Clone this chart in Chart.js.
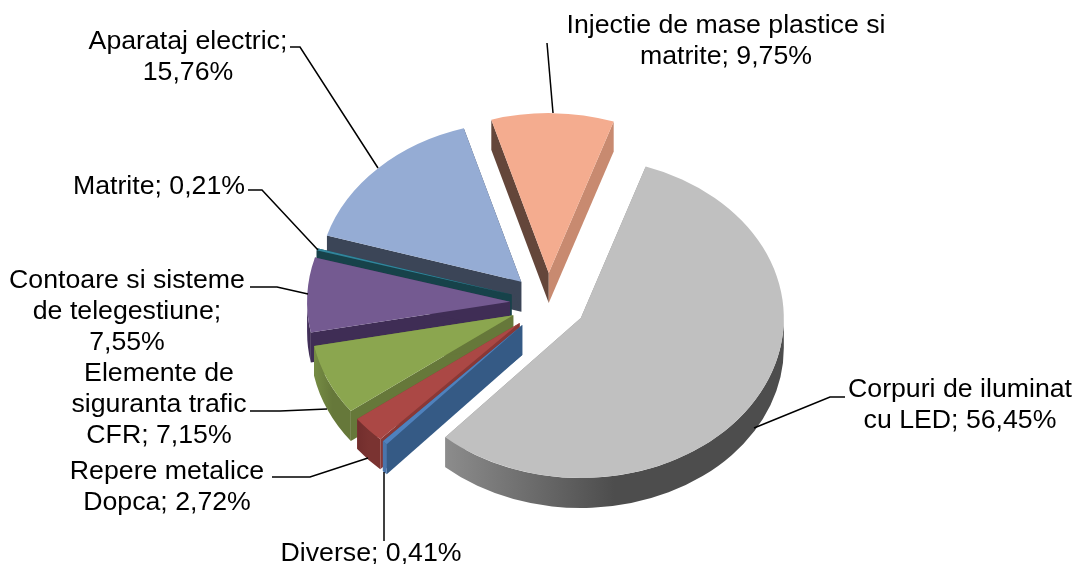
<!DOCTYPE html>
<html>
<head>
<meta charset="utf-8">
<script src="https://cdn.jsdelivr.net/npm/chart.js@4"></script>
<style>
    html, body { margin: 0; padding: 0; background: #fff; }
    canvas { display: block; }
</style>
</head>
<body>
<canvas id="chart1" width="1077" height="564"></canvas>
<script>
// data, clockwise from the big slice
const categories = ["Corpuri de iluminat cu LED", "Diverse", "Repere metalice Dopca",
    "Elemente de siguranta trafic CFR", "Contoare si sisteme de telegestiune",
    "Matrite", "Aparataj electric", "Injectie de mase plastice si matrite"];
const shares = [56.45, 0.41, 2.72, 7.15, 7.55, 0.21, 15.76, 9.75];

// label text, line by line
const labelLines = [
    ["Corpuri de iluminat", "cu LED; 56,45%"],
    ["Diverse; 0,41%"],
    ["Repere metalice", "Dopca; 2,72%"],
    ["Elemente de", "siguranta trafic", "CFR; 7,15%"],
    ["Contoare si sisteme", "de telegestiune;", "7,55%"],
    ["Matrite; 0,21%"],
    ["Aparataj electric;", "15,76%"],
    ["Injectie de mase plastice si", "matrite; 9,75%"]
];

// colours per slice
const topColors = ["#c0c0c0", "#4f81bd", "#ab4845", "#8ba64f", "#745a91", "#31859c", "#95acd4", "#f4ac8f"];
const startWallColors = ["#8c8c8c", "#355a85", "#8a3836", "#66783a", "#3f2d55", "#17424a", "#3b4557", "#64463a"];
const endWallColors = ["#8c8c8c", "#355a85", "#8a3836", "#66783a", "#3f2d55", "#17424a", "#3b4557", "#c88a70"];
const rimFromColors = ["#8c8c8c", "#4a75ab", "#722e2d", "#768c44", "#4d3a66", "#17424a", "#3b4557", "#64463a"];
const rimToColors = ["#4d4d4d", "#4a75ab", "#7a3331", "#66783a", "#3f2d55", "#17424a", "#3b4557", "#c88a70"];

// back slices get painted first
const drawOrder = [7, 6, 5, 4, 3, 2, 1, 0];

// look of the 3d pie
const explode = 38;
const tilt = 0.788;
const depth = 30;

// label placement: centre x, first baseline y
const labelSpots = [[960, 397], [371, 561], [167, 479], [159, 381], [127, 288], [159, 194], [188, 49], [726, 33]];
const leaderLines = [
    [[845, 397], [830, 397], [754, 428]],
    [[384, 541], [384, 472]],
    [[272, 477], [310, 477], [368, 458]],
    [[250, 411], [280, 411], [327, 409]],
    [[250, 287], [277, 287], [308, 294]],
    [[248, 190], [262, 190], [318, 250]],
    [[290, 47], [300, 47], [378, 168]],
    [[547, 43], [553, 113]]
];

const drawWalls = (ctx, arc, i, ox, oy) => {
    const r = arc.outerRadius;
    const cx = arc.x + ox;
    const cy = arc.y + oy;

    const ray = (angle, color) => {
        const rx = cx + Math.cos(angle) * r;
        const ry = cy + Math.sin(angle) * r * tilt;
        ctx.fillStyle = color;
        ctx.beginPath();
        ctx.moveTo(cx, cy);
        ctx.lineTo(rx, ry);
        ctx.lineTo(rx, ry + depth);
        ctx.lineTo(cx, cy + depth);
        ctx.closePath();
        ctx.fill();
    };
    ray(arc.startAngle, startWallColors[i]);
    ray(arc.endAngle, endWallColors[i]);

    // outer wall, only the part facing us
    for (let n = -1; n <= 2; n++) {
        const lo = Math.max(arc.startAngle, n * 2 * Math.PI);
        const hi = Math.min(arc.endAngle, Math.PI + n * 2 * Math.PI);
        if (lo >= hi) continue;

        const xa = cx + Math.cos(lo) * r;
        const xb = cx + Math.cos(hi) * r;
        const left = Math.min(xa, xb);
        const right = lo <= n * 2 * Math.PI ? cx + r : Math.max(xa, xb);
        const grad = ctx.createLinearGradient(left, 0, right, 0);
        grad.addColorStop(0, rimFromColors[i]);
        grad.addColorStop(0.5, rimToColors[i]);
        grad.addColorStop(1, rimToColors[i]);

        ctx.fillStyle = grad;
        ctx.beginPath();
        ctx.ellipse(cx, cy, r, r * tilt, 0, lo, hi);
        ctx.ellipse(cx, cy + depth, r, r * tilt, 0, hi, lo, true);
        ctx.closePath();
        ctx.fill();
    }
};

const pie3d = {
    id: 'pie3d',
    beforeDatasetDraw(chart, args) {
        const ctx = chart.ctx;
        const arcs = args.meta.data;

        drawOrder.forEach((i) => {
            const arc = arcs[i];
            const mid = (arc.startAngle + arc.endAngle) / 2;
            const ox = Math.cos(mid) * explode;
            const oy = Math.sin(mid) * explode * tilt;

            drawWalls(ctx, arc, i, ox, oy);

            // top face is the chart's own arc, squashed
            ctx.save();
            ctx.translate(arc.x + ox, arc.y + oy);
            ctx.scale(1, tilt);
            ctx.translate(-arc.x, -arc.y);
            arc.draw(ctx);
            ctx.restore();
        });
        return false;
    },
    afterDraw(chart) {
        const ctx = chart.ctx;
        ctx.save();
        ctx.strokeStyle = '#000';
        ctx.lineWidth = 1.5;
        leaderLines.forEach((pts) => {
            ctx.beginPath();
            pts.forEach((p, k) => k === 0 ? ctx.moveTo(p[0], p[1]) : ctx.lineTo(p[0], p[1]));
            ctx.stroke();
        });

        ctx.fillStyle = '#000';
        ctx.font = '26.7px "Liberation Sans"';
        ctx.textAlign = 'center';
        ctx.textBaseline = 'alphabetic';
        labelLines.forEach((lines, i) => {
            lines.forEach((line, k) => {
                ctx.fillText(line, labelSpots[i][0], labelSpots[i][1] + k * 31);
            });
        });
        ctx.restore();
    }
};

new Chart(document.getElementById('chart1'), {
    type: 'pie',
    data: {
        labels: categories,
        datasets: [{
            data: shares,
            backgroundColor: topColors,
            borderWidth: 0
        }]
    },
    options: {
        responsive: false,
        animation: false,
        rotation: 18.66,
        radius: 203,
        layout: { padding: { left: 19, top: 42 } },
        plugins: {
            legend: { display: false },
            tooltip: { enabled: false }
        }
    },
    plugins: [pie3d]
});
</script>
</body>
</html>
